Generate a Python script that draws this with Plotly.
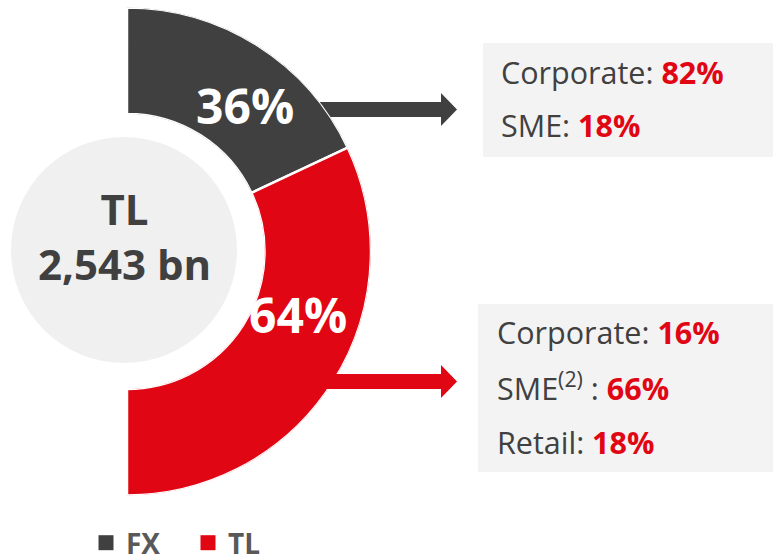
import plotly.graph_objects as go

# ---- data ----
currency = ["FX", "TL"]
share_pct = [36, 64]
colors = ["#404040", "#e10613"]
total_lines = ["TL", "2,543 bn"]
fx_breakdown_labels = ["Corporate:", "SME:"]
fx_breakdown_values = [82, 18]
tl_breakdown_labels = ["Corporate:", "SME<sup>(2)</sup> :", "Retail:"]
tl_breakdown_values = [16, 66, 18]

W, H = 773, 560
FONT = "Open Sans"
DARK = "#404040"
RED = "#e10613"


def px(x):
    return x / W


def py(y):
    return 1 - y / H


fig = go.Figure()

# half-donut built from the shares: 100% maps onto 180 degrees
start = 0.0
for name, val, col in zip(currency, share_pct, colors):
    span = val / 100 * 180
    fig.add_trace(go.Barpolar(
        r=[1], theta=[start + span / 2], width=[span], base=0,
        name=name, marker=dict(color=col, line=dict(color="white", width=2.5)),
        hoverinfo="skip", showlegend=False, legendgroup=name,
    ))
    start += span

# legend entries (square swatches) for the two slices
for name, col in zip(currency, colors):
    fig.add_trace(go.Scatterpolar(
        r=[None], theta=[None], mode="markers", name=name, legendgroup=name,
        marker=dict(symbol="square", size=15, color=col), hoverinfo="skip",
    ))

fig.update_layout(
    width=W, height=H,
    margin=dict(l=0, r=0, t=0, b=0, autoexpand=False),
    paper_bgcolor="white",
    plot_bgcolor="white",
    polar=dict(
        domain=dict(x=[px(127), px(371)], y=[py(495.5), py(7.5)]),
        sector=[-90, 90],
        hole=137.5 / 244,
        bgcolor="rgba(0,0,0,0)",
        radialaxis=dict(visible=False, range=[0, 1]),
        angularaxis=dict(visible=False, rotation=90, direction="clockwise",
                         thetaunit="degrees", showgrid=False),
        barmode="overlay",
    ),
    showlegend=True,
    legend=dict(
        orientation="h", x=px(86), xanchor="left", y=py(543), yanchor="middle",
        font=dict(family=FONT, size=28, color="#595959", weight="bold"),
        entrywidth=57, entrywidthmode="pixels",
        bgcolor="rgba(0,0,0,0)", itemclick=False, itemdoubleclick=False,
    ),
)

shapes = []
# centre disc
shapes.append(dict(type="circle", xref="paper", yref="paper", layer="below",
                   x0=px(11), x1=px(237), y0=py(363), y1=py(137),
                   fillcolor="#f0f0f0", line=dict(width=0)))
# info boxes
shapes.append(dict(type="rect", xref="paper", yref="paper", layer="below",
                   x0=px(483), x1=px(773), y0=py(157), y1=py(43),
                   fillcolor="#f3f3f3", line=dict(width=0)))
shapes.append(dict(type="rect", xref="paper", yref="paper", layer="below",
                   x0=px(478), x1=px(773), y0=py(472), y1=py(304),
                   fillcolor="#f3f3f3", line=dict(width=0)))


def arrow(x0, xb, xt, yc, half_shaft, half_head):
    pts = [(x0, yc - half_shaft), (xb, yc - half_shaft), (xb, yc - half_head),
           (xt, yc), (xb, yc + half_head), (xb, yc + half_shaft), (x0, yc + half_shaft)]
    d = "M " + " L ".join(f"{px(a):.5f},{py(b):.5f}" for a, b in pts) + " Z"
    return d


shapes.append(dict(type="path", xref="paper", yref="paper", layer="below",
                   path=arrow(312, 441, 457, 109.5, 7.5, 16.5),
                   fillcolor=DARK, line=dict(width=0)))
shapes.append(dict(type="path", xref="paper", yref="paper", layer="above",
                   path=arrow(322, 441, 457, 381.5, 7.5, 16.5),
                   fillcolor=RED, line=dict(width=0)))
fig.update_layout(shapes=shapes)

ann = []
# slice labels
for (cx, cy), val in zip([(245, 105), (298, 314)], share_pct):
    ann.append(dict(x=px(cx), y=py(cy), xref="paper", yref="paper", showarrow=False,
                    text=f"<b>{val}%</b>", font=dict(family=FONT, size=48, color="white"),
                    xanchor="center", yanchor="middle"))
# centre label
ann.append(dict(x=px(124), y=py(236), xref="paper", yref="paper", showarrow=False,
                text="<b>" + "<br>".join(total_lines) + "</b>",
                font=dict(family=FONT, size=42, color=DARK),
                xanchor="center", yanchor="middle"))

# breakdown text
for lab, val, cy in zip(fx_breakdown_labels, fx_breakdown_values, [71.5, 125]):
    ann.append(dict(x=px(499), y=py(cy), xref="paper", yref="paper", showarrow=False,
                    text=f"{lab} <span style='color:{RED}'><b>{val}%</b></span>",
                    font=dict(family=FONT, size=30.5, color=DARK),
                    xanchor="left", yanchor="middle"))
for lab, val, cy in zip(tl_breakdown_labels, tl_breakdown_values, [332, 386.5, 441.5]):
    ann.append(dict(x=px(495), y=py(cy), xref="paper", yref="paper", showarrow=False,
                    text=f"{lab} <span style='color:{RED}'><b>{val}%</b></span>",
                    font=dict(family=FONT, size=30.5, color=DARK),
                    xanchor="left", yanchor="middle"))
fig.update_layout(annotations=ann)

fig.write_html("out.html", config={"displayModeBar": False},
               post_script="document.body.style.margin='0px';")
